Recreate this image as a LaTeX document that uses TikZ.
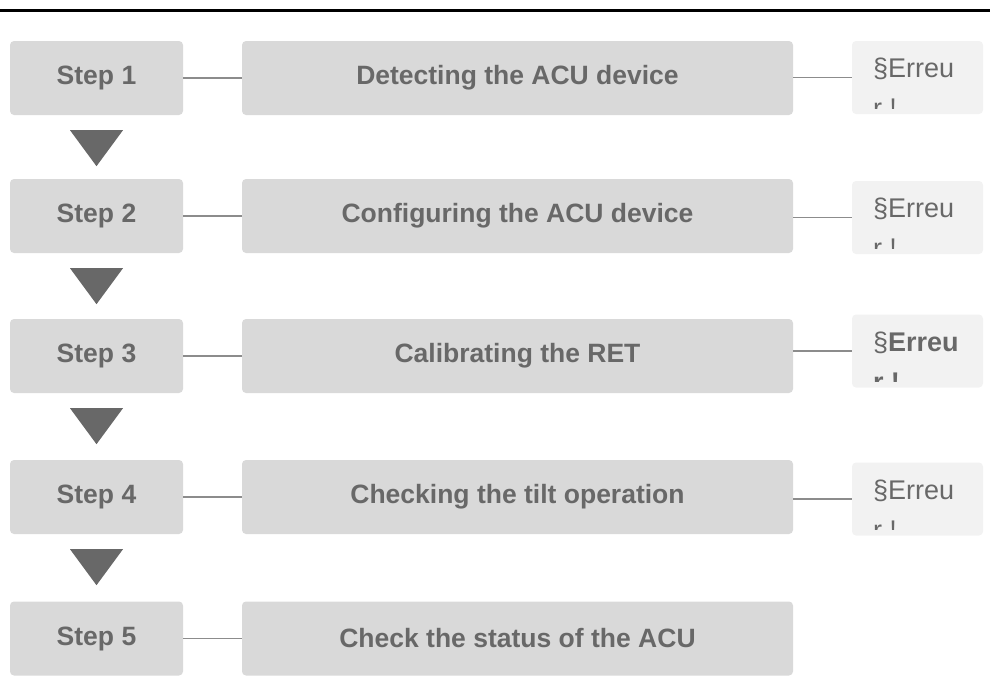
\documentclass[tikz,border=0pt]{standalone}
\usepackage{fontspec}
\setmainfont{Liberation Sans}
\usetikzlibrary{calc}
\definecolor{boxgray}{HTML}{D9D9D9}
\definecolor{notegray}{HTML}{F2F2F2}
\definecolor{textgray}{HTML}{686868}
\definecolor{linegray}{HTML}{8C8C8C}
\tikzset{
  stepbox/.style={fill=boxgray, rounded corners=4pt, minimum width=173pt, minimum height=74pt,
    inner sep=0pt, text=textgray, font=\bfseries\fontsize{26.5}{31}\selectfont},
  taskbox/.style={stepbox, minimum width=551pt},
  notebox/.style={fill=notegray, rounded corners=4pt, minimum width=131pt, minimum height=73pt, inner sep=0pt},
  notetext/.style={anchor=base west, inner sep=0pt, text=textgray, font=\fontsize{27}{32}\selectfont},
  link/.style={draw=linegray, line width=1.5pt},
  downtri/.style={fill=textgray}
}
% triangle under a step box
\newcommand\nextstep[1]{\fill[downtri] ($(#1.south)+(-26.5pt,-15pt)$) -- ++(53pt,0) -- ++(-26.5pt,-36pt) -- cycle;}
% clipped note text in the right-hand box
\newcommand\errnote[3]{%
  \begin{scope}
    \clip (#1.north west) rectangle ([yshift=6pt]#1.south east);
    \node[notetext] (#1a) at ([xshift=21pt,yshift=-37pt]#1.north west) {#2};
    \node[notetext] (#1b) at ([xshift=21pt,yshift=-77pt]#1.north west) {#3};
  \end{scope}}

\begin{document}
\begin{tikzpicture}[x=1pt, y=-1pt]
			%%%%% START %%%%%
			\useasboundingbox (0, 0) rectangle (990, 675);
			
			\draw[line width=2.3pt] (0, 10.5) -- (990, 10.5);
			
			% steps
			\node[stepbox] (s1) at (96.5, 78) {Step 1};
			\node[stepbox] (s2) at (96.5, 216) {Step 2};
			\node[stepbox] (s3) at (96.5, 356) {Step 3};
			\node[stepbox] (s4) at (96.5, 497) {Step 4};
			\node[stepbox] (s5) at (96.5, 638.5) {Step 5};
			
			% tasks
			\node[taskbox] (t1) at (517.5, 78) {Detecting the ACU device};
			\node[taskbox] (t2) at (517.5, 216) {Configuring the ACU device};
			\node[taskbox] (t3) at (517.5, 356) {Calibrating the RET};
			\node[taskbox] (t4) at (517.5, 497) {Checking the tilt operation};
			\node[taskbox] (t5) at (517.5, 638.5) {Check the status of the ACU};
			
			% notes
			\node[notebox] (n1) at (917.5, 77.5) {};
			\node[notebox] (n2) at (917.5, 217.5) {};
			\node[notebox] (n3) at (917.5, 351) {};
			\node[notebox] (n4) at (917.5, 499) {};
			\errnote{n1}{§Erreu}{r !}
			\errnote{n2}{§Erreu}{r !}
			\errnote{n3}{§\bfseries Erreu}{\bfseries r !}
			\errnote{n4}{§Erreu}{r !}
			
			\draw[link] (s1) -- (t1);
			\draw[link] (s2) -- (t2);
			\draw[link] (s3) -- (t3);
			\draw[link] (s4) -- (t4);
			\draw[link] (s5) -- (t5);
			
			\draw[link] (n1.west -| t1.east) -- (n1.west);
			\draw[link] (n2.west -| t2.east) -- (n2.west);
			\draw[link] (n3.west -| t3.east) -- (n3.west);
			\draw[link] (n4.west -| t4.east) -- (n4.west);
			
			\nextstep{s1}
			\nextstep{s2}
			\nextstep{s3}
			\nextstep{s4}
			
			%%%%% END %%%%%
		\end{tikzpicture}
\end{document}
